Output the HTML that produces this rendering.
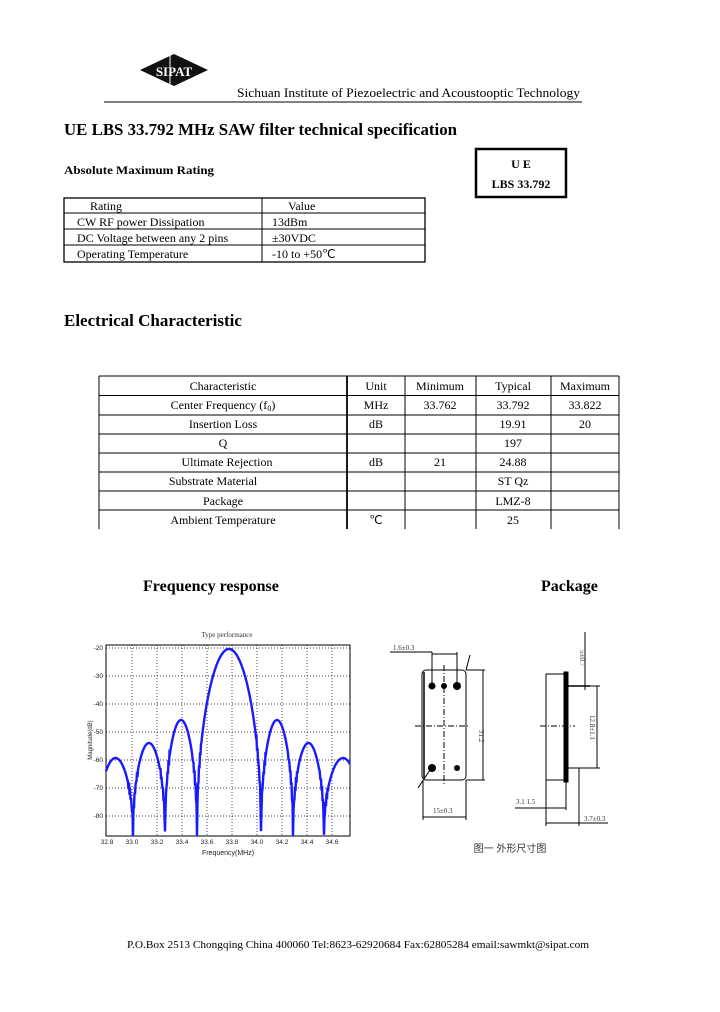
<!DOCTYPE html>
<html><head><meta charset="utf-8"><style>
html,body{margin:0;padding:0;background:#fff;}
svg{display:block;font-family:"Liberation Serif",serif;}
</style></head><body>
<svg id="s" width="720" height="1012" viewBox="0 0 720 1012" xmlns="http://www.w3.org/2000/svg">
<rect width="720" height="1012" fill="#fff"/>
<polygon points="140,70 174,54 208,70 174,86" fill="#111"/>
<text x="174" y="76" font-size="13" font-weight="bold" fill="#fff" text-anchor="middle">SIPAT</text>
<line x1="170" y1="55" x2="170" y2="86" stroke="#fff" stroke-width="1"/>
<text x="237" y="97" font-size="13" textLength="343" lengthAdjust="spacingAndGlyphs">Sichuan Institute of Piezoelectric and Acoustooptic Technology</text>
<line x1="104" y1="102" x2="582" y2="102" stroke="#000" stroke-width="1"/>
<text x="64" y="135" font-size="17" font-weight="bold" textLength="393" lengthAdjust="spacingAndGlyphs">UE LBS 33.792 MHz SAW filter technical specification</text>
<text x="64" y="174" font-size="12" font-weight="bold" textLength="150" lengthAdjust="spacingAndGlyphs">Absolute Maximum Rating</text>
<rect x="476" y="149" width="90" height="48" fill="none" stroke="#000" stroke-width="2.5"/>
<text x="521" y="168" font-size="12" font-weight="bold" text-anchor="middle">U E</text>
<text x="521" y="188" font-size="12" font-weight="bold" text-anchor="middle">LBS 33.792</text>
<g stroke="#000" stroke-width="1" fill="none">
<rect x="64" y="198" width="361" height="64" stroke-width="1.3"/>
<line x1="64" y1="213" x2="425" y2="213"/><line x1="64" y1="229" x2="425" y2="229"/><line x1="64" y1="245" x2="425" y2="245"/>
<line x1="262" y1="198" x2="262" y2="262"/>
</g>
<g font-size="12">
<text x="90" y="210">Rating</text><text x="288" y="210">Value</text>
<text x="77" y="226">CW RF power Dissipation</text><text x="272" y="226">13dBm</text>
<text x="77" y="242">DC Voltage between any 2 pins</text><text x="272" y="242">±30VDC</text>
<text x="77" y="258">Operating Temperature</text><text x="272" y="258">-10 to +50℃</text>
</g>
<text x="64" y="326" font-size="17" font-weight="bold">Electrical Characteristic</text>
<g stroke="#000" stroke-width="1" fill="none">
<line x1="99" y1="376" x2="619" y2="376"/>
<line x1="99" y1="395.5" x2="619" y2="395.5"/><line x1="99" y1="415" x2="619" y2="415"/>
<line x1="99" y1="434" x2="619" y2="434"/><line x1="99" y1="453" x2="619" y2="453"/>
<line x1="99" y1="472" x2="619" y2="472"/><line x1="99" y1="491" x2="619" y2="491"/>
<line x1="99" y1="510" x2="619" y2="510"/>
<line x1="99" y1="376" x2="99" y2="529"/>
<line x1="347" y1="376" x2="347" y2="529" stroke-width="1.8"/>
<line x1="405" y1="376" x2="405" y2="529"/><line x1="476" y1="376" x2="476" y2="529"/>
<line x1="551" y1="376" x2="551" y2="529"/><line x1="619" y1="376" x2="619" y2="529"/>
</g>
<g font-size="12" text-anchor="middle">
<text x="223" y="390">Characteristic</text><text x="376" y="390">Unit</text><text x="440" y="390">Minimum</text><text x="513" y="390">Typical</text><text x="585" y="390">Maximum</text>
<text x="223" y="409">Center Frequency (f<tspan font-size="8" dy="2">0</tspan><tspan dy="-2">)</tspan></text><text x="376" y="409">MHz</text><text x="440" y="409">33.762</text><text x="513" y="409">33.792</text><text x="585" y="409">33.822</text>
<text x="223" y="428">Insertion Loss</text><text x="376" y="428">dB</text><text x="513" y="428">19.91</text><text x="585" y="428">20</text>
<text x="223" y="447">Q</text><text x="513" y="447">197</text>
<text x="227" y="466">Ultimate Rejection</text><text x="376" y="466">dB</text><text x="440" y="466">21</text><text x="513" y="466">24.88</text>
<text x="213" y="485">Substrate Material</text><text x="513" y="485">ST Qz</text>
<text x="223" y="505">Package</text><text x="513" y="505">LMZ-8</text>
<text x="223" y="524">Ambient Temperature</text><text x="376" y="524">℃</text><text x="513" y="524">25</text>
</g>
<text x="143" y="591" font-size="16" font-weight="bold">Frequency response</text>
<text x="541" y="591" font-size="16" font-weight="bold">Package</text>
<text x="227" y="637" font-size="7" text-anchor="middle" fill="#333">Type performance</text>
<rect x="106" y="645" width="244" height="191" fill="none" stroke="#000" stroke-width="1"/>
<g id="grid" stroke="#000" stroke-width="0.7" stroke-dasharray="1,2"></g>
<g id="lbl" font-size="6.5" fill="#222" font-family="Liberation Sans,sans-serif"></g>
<text x="228" y="855" font-size="7" text-anchor="middle" fill="#222" font-family="Liberation Sans,sans-serif">Frequency(MHz)</text>
<text x="92" y="740" font-size="6" text-anchor="middle" fill="#222" transform="rotate(-90 92 740)" font-family="Liberation Sans,sans-serif">Magnitude(dB)</text>
<path id="curve" fill="none" stroke="#1a1aff" stroke-width="2.4" d=""/>
<g stroke="#000" stroke-width="1" fill="none">
<rect x="422" y="670" width="44" height="110" rx="4"/>
<line x1="424" y1="672" x2="424" y2="778" stroke-width="1.5"/>
<line x1="415" y1="726" x2="470" y2="726" stroke-dasharray="6,2,1,2"/>
<line x1="444" y1="665" x2="444" y2="785" stroke-dasharray="6,2,1,2"/>
<line x1="432" y1="652" x2="432" y2="688"/><line x1="457" y1="652" x2="457" y2="688"/>
<line x1="390" y1="652" x2="432" y2="652"/><line x1="432" y1="654" x2="457" y2="654"/>
<line x1="466" y1="670" x2="485" y2="670"/><line x1="466" y1="780" x2="485" y2="780"/>
<line x1="483" y1="670" x2="483" y2="780"/>
<line x1="423" y1="780" x2="423" y2="820"/><line x1="466" y1="780" x2="466" y2="820"/>
<line x1="423" y1="817" x2="466" y2="817"/>
<line x1="466" y1="670" x2="470" y2="655"/><line x1="430" y1="770" x2="418" y2="788"/>
<rect x="546" y="674" width="18" height="106"/>
<rect x="564" y="672" width="4" height="110" fill="#000"/>
<line x1="568" y1="686" x2="590" y2="686" stroke-width="1.5"/><line x1="568" y1="768" x2="582" y2="768"/>
<line x1="585" y1="632" x2="585" y2="690"/>
<line x1="585" y1="686" x2="600" y2="686"/><line x1="580" y1="768" x2="600" y2="768"/>
<line x1="597" y1="686" x2="597" y2="768"/>
<line x1="540" y1="726" x2="575" y2="726" stroke-dasharray="6,2,1,2"/>
<line x1="546" y1="780" x2="546" y2="826"/><line x1="566" y1="782" x2="566" y2="810"/><line x1="579" y1="768" x2="579" y2="826"/>
<line x1="515" y1="808" x2="566" y2="808"/><line x1="546" y1="823" x2="608" y2="823"/>
</g>
<g fill="#000"><circle cx="432" cy="686" r="3.5"/><circle cx="444" cy="686" r="3"/><circle cx="457" cy="686" r="4"/><circle cx="432" cy="768" r="4"/><circle cx="457" cy="768" r="3"/></g>
<g font-size="7" fill="#333">
<text x="393" y="650">1.6±0.3</text><text x="433" y="813">15±0.3</text><text x="516" y="804">3.1 1.5</text><text x="584" y="821">3.7±0.3</text>
<text x="479" y="730" transform="rotate(90 479 730)">31.2</text><text x="590" y="715" transform="rotate(90 590 715)">12.8±1.1</text>
<text x="580" y="650" transform="rotate(90 580 650)">5±0.7</text>
</g>
<text x="510" y="852" font-size="10" fill="#333" text-anchor="middle" font-family="Liberation Sans,'Noto Sans CJK SC',sans-serif">图一 外形尺寸图</text>
<text x="127" y="948" font-size="11" textLength="462" lengthAdjust="spacingAndGlyphs">P.O.Box 2513 Chongqing China 400060   Tel:8623-62920684   Fax:62805284   email:sawmkt@sipat.com</text>
</svg>
<script>
(function(){
var NS="http://www.w3.org/2000/svg";
var g=document.getElementById('grid'),l=document.getElementById('lbl');
function ln(x1,y1,x2,y2){var e=document.createElementNS(NS,'line');e.setAttribute('x1',x1);e.setAttribute('y1',y1);e.setAttribute('x2',x2);e.setAttribute('y2',y2);g.appendChild(e);}
function tx(x,y,s,a){var e=document.createElementNS(NS,'text');e.setAttribute('x',x);e.setAttribute('y',y);if(a)e.setAttribute('text-anchor',a);e.textContent=s;l.appendChild(e);}
var ys=[648,676,704,732,760,788,816];
ys.forEach(function(y,i){ln(106,y,350,y);tx(103,y+2,String(-20-10*i),'end');});
var xl=["32.8","33.0","33.2","33.4","33.6","33.8","34.0","34.2","34.4","34.6"];
for(var i=0;i<10;i++){var x=107+i*25;if(i>0)ln(x,645,x,836);tx(x,844,xl[i],'middle');}
var nulls=[98,133,165,197,261,293,324,362];
var peaks=[758,743,720,649,720,743,758];
var depth=[835,840,845,840,818,840,840];
var d="",first=true;
function f(x){
 for(var k=0;k<7;k++){var a=nulls[k],b=nulls[k+1];if(x>=a&&x<=b){var t=(x-a)/(b-a);var s=Math.sin(Math.PI*t);var p=peaks[k];var bot=836;return p+(bot-p)*(1-Math.pow(s,0.45));}}
 return 836;}
for(var x=106;x<=350;x+=0.5){var y=f(x);
 var nd=Math.min.apply(null,nulls.map(function(n){return Math.abs(n-x);}));
 if(nd<5&&x>120)y+=Math.sin(x*7)*5;
 y=Math.max(645,Math.min(836,y));
 d+=(first?"M":"L")+x.toFixed(1)+","+y.toFixed(1);first=false;}
document.getElementById('curve').setAttribute('d',d);
})();
</script>
</body></html>
